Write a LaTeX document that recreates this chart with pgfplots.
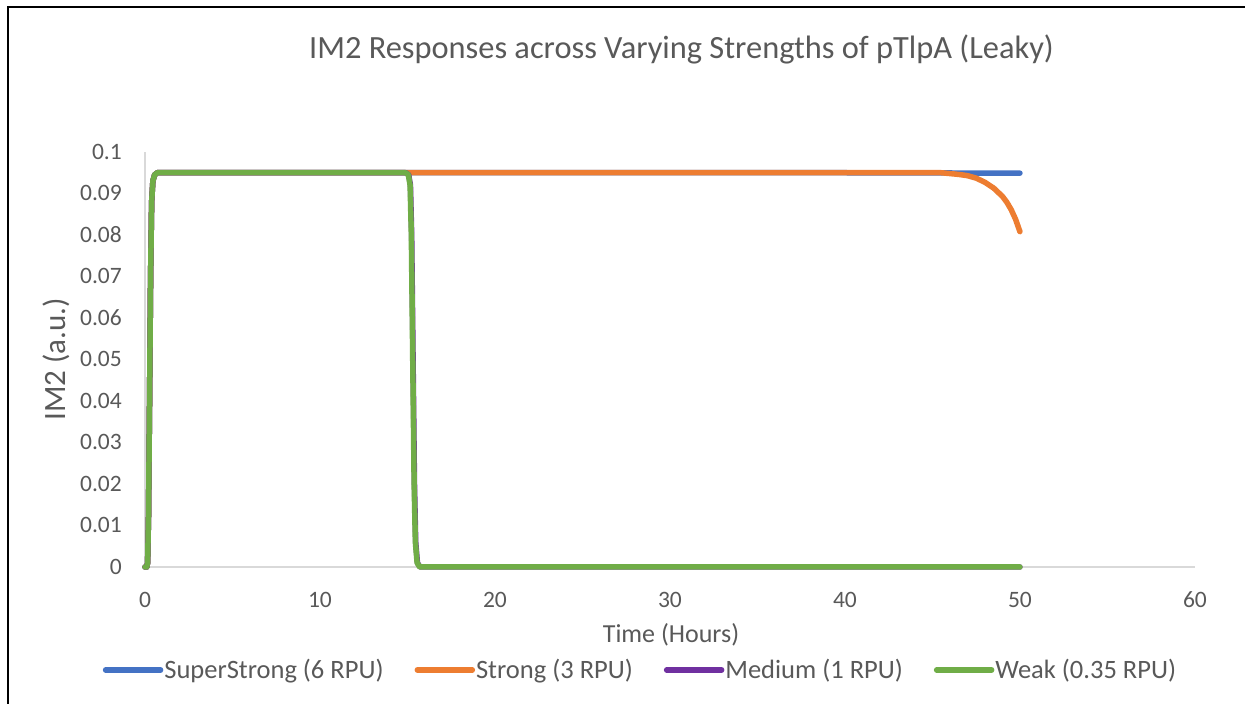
\documentclass[border=0pt]{standalone}
\usepackage{fontspec}
\setmainfont{Carlito}
\usepackage{pgfplots}
\pgfplotsset{compat=1.18}
\definecolor{cBlue}{HTML}{4472C4}
\definecolor{cOrange}{HTML}{ED7D31}
\definecolor{cPurple}{HTML}{7030A0}
\definecolor{cGreen}{HTML}{70AD47}
\definecolor{cText}{HTML}{595959}
\definecolor{cAxis}{HTML}{D9D9D9}
\begin{document}
\begin{tikzpicture}[x=1pt,y=1pt]
\useasboundingbox (0,0) rectangle (1245,704);
\fill[white] (0,0) rectangle (1245,704);
\draw[black, line width=1.6pt] (8,0) -- (8,697) -- (1245,697);
\begin{axis}[
  at={(145pt,137pt)}, anchor=south west,
  scale only axis, width=1050pt, height=415pt,
  xmin=0, xmax=60, ymin=0, ymax=0.1,
  axis x line=bottom, axis y line=left,
  axis line style={-, draw=cAxis, line width=1.3pt},
  major tick length=0pt,
  xtick={0,10,20,30,40,50,60},
  xticklabels={0,10,20,30,40,50,60},
  ytick={0,0.01,0.02,0.03,0.04,0.05,0.06,0.07,0.08,0.09,0.1},
  yticklabels={0,0.01,0.02,0.03,0.04,0.05,0.06,0.07,0.08,0.09,0.1},
  /pgf/number format/assume math mode=true,
  xticklabel style={font=\fontsize{23.5pt}{28pt}\selectfont, text=cText, inner sep=0pt, anchor=base, yshift=-41pt},
  yticklabel style={font=\fontsize{23.5pt}{28pt}\selectfont, text=cText, inner sep=0pt, anchor=base east, yshift=-7.5pt, xshift=-23pt},
  title={IM2 Responses across Varying Strengths of pTlpA (Leaky)},
  title style={font=\fontsize{32.4pt}{38pt}\selectfont, text=cText, at={(0.511,1.2117)}, anchor=base, inner sep=0pt},
  xlabel={Time (Hours)},
  xlabel style={font=\fontsize{26pt}{31pt}\selectfont, text=cText, at={(0.501,-0.183)}, anchor=base, inner sep=0pt},
  ylabel={IM2 (a.u.)},
  ylabel style={font=\fontsize{31pt}{37pt}\selectfont, text=cText, at={(-0.0848,0.5)}, anchor=center, inner sep=0pt},
  legend columns=4,
  legend style={at={(0.4714,-0.248)}, anchor=center, draw=none, fill=none,
    font=\fontsize{26.5pt}{31pt}\selectfont, text=cText,
    /tikz/every even column/.append style={column sep=30pt},
    nodes={inner sep=1pt}},
  legend image code/.code={\draw[#1, line cap=round] (0pt,0pt) -- (55pt,0pt);},
  every axis plot/.append style={line width=5.5pt, line join=round, line cap=round},
  clip=false,
]
\addplot[cBlue] coordinates {
(0,0) (0.1,0) (0.15,0.001) (0.2,0.012) (0.26,0.04) (0.32,0.07) (0.38,0.088) (0.45,0.093) (0.55,0.0945) (0.7,0.095)
(20,0.095) (40,0.095) (50,0.0949)};
\addlegendentry{SuperStrong (6 RPU)}
\addplot[cOrange] coordinates {
(0,0) (0.1,0) (0.15,0.001) (0.2,0.012) (0.26,0.04) (0.32,0.07) (0.38,0.088) (0.45,0.093) (0.55,0.0945) (0.7,0.095)
(20,0.095) (40,0.095) (45.5,0.095) (46,0.0948) (46.5,0.0946) (47,0.0943) (47.5,0.0937) (48,0.0927) (48.5,0.0913) (49,0.0893) (49.25,0.0879) (49.5,0.0861) (49.75,0.0838) (50,0.0808)};
\addlegendentry{Strong (3 RPU)}
\addplot[cPurple] coordinates {
(0,0) (0.1,0) (0.15,0.001) (0.2,0.012) (0.26,0.04) (0.32,0.07) (0.38,0.088) (0.45,0.093) (0.55,0.0945) (0.7,0.095)
(14.9,0.095) (15.07,0.0945) (15.17,0.092) (15.24,0.08) (15.32,0.05) (15.4,0.02) (15.47,0.006) (15.57,0.001) (15.72,0) (30,0) (50,0)};
\addlegendentry{Medium (1 RPU)}
\addplot[cGreen] coordinates {
(0,0) (0.1,0) (0.15,0.001) (0.2,0.012) (0.26,0.04) (0.32,0.07) (0.38,0.088) (0.45,0.093) (0.55,0.0945) (0.7,0.095)
(14.9,0.095) (15.05,0.0945) (15.15,0.092) (15.22,0.08) (15.3,0.05) (15.38,0.02) (15.45,0.006) (15.55,0.001) (15.7,0) (30,0) (50,0)};
\addlegendentry{Weak (0.35 RPU)}
\end{axis}
\end{tikzpicture}
\end{document}
